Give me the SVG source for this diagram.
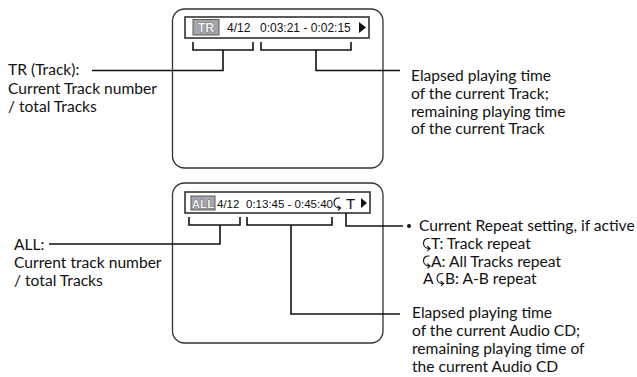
<svg xmlns="http://www.w3.org/2000/svg" xmlns:xlink="http://www.w3.org/1999/xlink" width="637" height="377" viewBox="0 0 637 377">
<style>
.scr{fill:#fff;stroke:#333;stroke-width:1.3}
.disp{fill:#fff;stroke:#333;stroke-width:1.6}
.badge{fill:#a3a7ab;stroke:#5a5a5a;stroke-width:1}
.btxt{font-family:"Liberation Sans",Arial,sans-serif;font-weight:bold;fill:#f4f4f4;stroke:#444;stroke-width:0.7;text-anchor:middle;paint-order:stroke}
.dtxt{font-family:"Liberation Sans",Arial,sans-serif;fill:#111}
.lbl{font-family:Lato,"Open Sans",sans-serif;font-size:15.6px;fill:#111}
.ln{fill:none;stroke:#111;stroke-width:1.6}
.ico{fill:none;stroke:#111;stroke-width:1.1}
</style>
<defs>
<g id="rep">
<path class="ico" d="M7 1 Q1 0.5 1 6 Q1.5 11 7 11 M4.6 8.6 L7.6 11 L5 13.4"/>
</g>
</defs>
<g id="screen1">
<rect class="scr" x="172.5" y="9" width="210.5" height="159" rx="12"/>
<rect class="disp" x="185" y="17" width="184" height="21"/>
<rect class="badge" x="193" y="19.5" width="26" height="15.5"/>
<text class="btxt" x="206" y="32" font-size="12.5">TR</text>
<text class="dtxt" x="227" y="32" font-size="12">4/12</text>
<text class="dtxt" x="260" y="32" font-size="12">0:03:21 - 0:02:15</text>
<polygon points="359,22 366,27.5 359,33" fill="#111"/>
</g>
<g id="screen2">
<rect class="scr" x="172.5" y="183" width="210.5" height="160" rx="12"/>
<rect class="disp" x="185" y="192" width="185" height="21"/>
<rect class="badge" x="191" y="196" width="24" height="14"/>
<text class="btxt" x="203" y="207.5" font-size="11.5">ALL</text>
<text class="dtxt" x="217" y="208" font-size="11.5">4/12</text>
<text class="dtxt" x="246" y="208" font-size="11.5">0:13:45 - 0:45:40</text>
<use xlink:href="#rep" transform="translate(333,197)"/>
<text class="dtxt" x="346" y="209" font-size="15">T</text>
<polygon points="361,198 367,203 361,208" fill="#111"/>
</g>
<g id="connectors">
<path class="ln" d="M193 42 V50 H253 V42 M223 50 V70.5 H92"/>
<path class="ln" d="M261 42 V50 H351 V42 M316 50 V70.5 H400"/>
<path class="ln" d="M189 217 V225 H240 V217 M220 225 V244 H49"/>
<path class="ln" d="M247 217 V225 H332 V217 M291 225 V314 H400"/>
<path class="ln" d="M346 213 V226 H403"/>
<circle cx="409" cy="226" r="2" fill="#111"/>
</g>
<g id="label-tr">
<text class="lbl" x="8" y="75">TR (Track):</text>
<text class="lbl" x="8" y="94">Current Track number</text>
<text class="lbl" x="8" y="112">/ total Tracks</text>
</g>
<g id="label-time1">
<text class="lbl" x="411" y="81">Elapsed playing time</text>
<text class="lbl" x="411" y="99">of the current Track;</text>
<text class="lbl" x="411" y="117">remaining playing time</text>
<text class="lbl" x="411" y="134">of the current Track</text>
</g>
<g id="label-all">
<text class="lbl" x="14" y="250">ALL:</text>
<text class="lbl" x="14" y="268">Current track number</text>
<text class="lbl" x="14" y="286">/ total Tracks</text>
</g>
<g id="label-repeat">
<text class="lbl" x="419" y="231">Current Repeat setting, if active</text>
<use xlink:href="#rep" transform="translate(422.5,237.5)"/>
<text class="lbl" x="431" y="249">T: Track repeat</text>
<use xlink:href="#rep" transform="translate(422.5,255)"/>
<text class="lbl" x="431" y="266.5">A: All Tracks repeat</text>
<text class="lbl" x="423" y="284">A</text>
<use xlink:href="#rep" transform="translate(436,272.5)"/>
<text class="lbl" x="445" y="284">B: A-B repeat</text>
</g>
<g id="label-time2">
<text class="lbl" x="412" y="318">Elapsed playing time</text>
<text class="lbl" x="412" y="336">of the current Audio CD;</text>
<text class="lbl" x="412" y="354">remaining playing time of</text>
<text class="lbl" x="412" y="372">the current Audio CD</text>
</g>
</svg>
